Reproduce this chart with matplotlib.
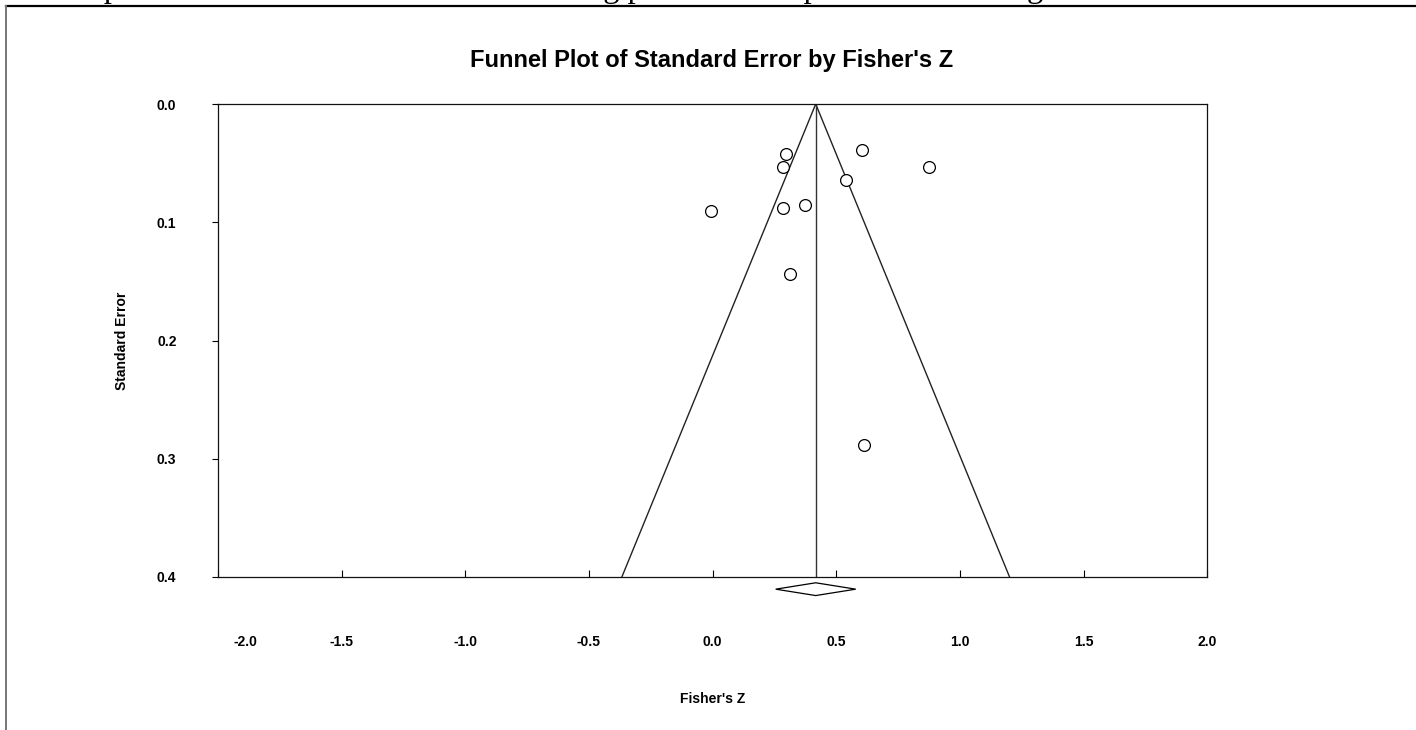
import matplotlib.pyplot as plt
from matplotlib.lines import Line2D
from matplotlib.transforms import ScaledTranslation

# study effects (Fisher's Z) and their standard errors
fisher_z = [0.296, 0.285, 0.603, 0.877, 0.541, -0.008, 0.283, 0.374, 0.312, 0.614]
std_err = [0.0423, 0.0533, 0.0387, 0.0530, 0.0640, 0.0902, 0.0877, 0.0854, 0.1438, 0.2884]

# pooled estimate and its confidence interval
pooled_z = 0.417
pooled_lo = 0.255
pooled_hi = 0.579

x_ticks = [-2.0, -1.5, -1.0, -0.5, 0.0, 0.5, 1.0, 1.5, 2.0]
y_ticks = [0.0, 0.1, 0.2, 0.3, 0.4]
se_max = 0.4

fig = plt.figure(figsize=(14.16, 7.30), dpi=100)
ax = fig.add_axes([0.1540, 0.2096, 0.6985, 0.6479])

# funnel
ax.plot([pooled_z - 1.96 * se_max, pooled_z, pooled_z + 1.96 * se_max],
        [se_max, 0, se_max], color="#222222", lw=1.0)
ax.plot([pooled_z, pooled_z], [0, se_max], color="#333333", lw=1.0)

ax.plot(fisher_z, std_err, "o", ms=8.5, mfc="white", mec="black", mew=0.9)

# summary diamond below the axis
dh = 0.0054
dy = se_max + 0.0103
ax.fill([pooled_lo, pooled_z, pooled_hi, pooled_z],
        [dy, dy - dh, dy, dy + dh], facecolor="white", edgecolor="black",
        lw=0.9, clip_on=False)

ax.set_xlim(-2.0, 2.0)
ax.set_ylim(se_max, 0)
ax.set_xticks(x_ticks)
ax.set_yticks(y_ticks)
ax.set_xticklabels([f"{v:.1f}" for v in x_ticks], fontweight="bold", fontsize=10,
                   family="Liberation Sans")
ax.set_yticklabels([f"{v:.1f}" for v in y_ticks], fontweight="bold", fontsize=10,
                   family="Liberation Sans")
ax.tick_params(axis="x", direction="in", length=5, width=0.8, pad=42)
ax.tick_params(axis="y", direction="out", length=4, width=0.8, pad=26)
lbl = ax.get_xticklabels()[0]
lbl.set_transform(lbl.get_transform() + ScaledTranslation(0.27, 0, fig.dpi_scale_trans))
for s in ax.spines.values():
    s.set_linewidth(0.9)
    s.set_color("#111111")

ax.set_xlabel("Fisher's Z", fontweight="bold", fontsize=10, family="Liberation Sans",
              labelpad=31)
ax.set_ylabel("Standard Error", fontweight="bold", fontsize=10, family="Liberation Sans",
              labelpad=20)
fig.text(0.5028, 0.917, "Funnel Plot of Standard Error by Fisher's Z", ha="center",
         va="center", fontweight="bold", fontsize=17, family="Liberation Sans")

# caption of the page, cut by the top edge of the screenshot
fig.text(6 / 1416, 1 + 3 / 730, "Funnel plot of the correlation between teaching presence and perceived learning",
         ha="left", va="baseline", fontsize=23.3, family="Liberation Serif")

# page frame
fig.add_artist(Line2D([6 / 1416, 1], [1 - 6 / 730, 1 - 6 / 730], color="black", lw=1.6))
fig.add_artist(Line2D([6 / 1416, 6 / 1416], [0, 1 - 6 / 730], color="#777777", lw=1.4))

fig.savefig("out.png", dpi=100)
